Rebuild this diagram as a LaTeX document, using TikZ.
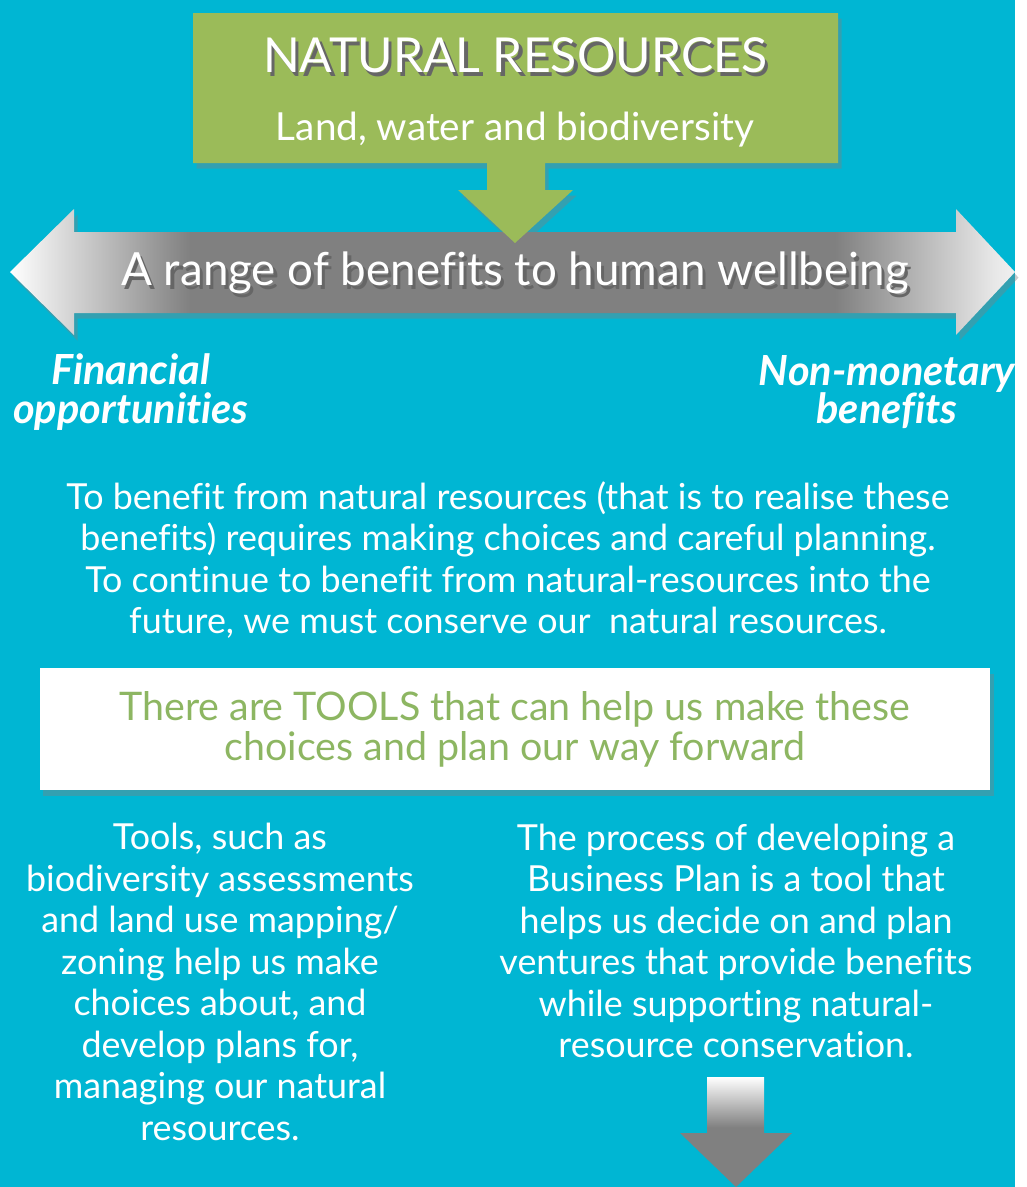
\documentclass[tikz,border=0pt]{standalone}
\usepackage{fontspec}
\setmainfont{Lato}[Ligatures=NoCommon]
\usetikzlibrary{shadows}

\definecolor{seablue}{HTML}{00B6D3}
\definecolor{leafgreen}{HTML}{9BBB59}
\definecolor{tooltext}{HTML}{8DB662}

% fades for the grey arrows
\pgfdeclarehorizontalshading{bandfade}{100bp}{color(0bp)=(white); color(25bp)=(white); color(34bp)=(gray); color(66bp)=(gray); color(74bp)=(white!82!gray); color(75bp)=(white!88!gray); color(100bp)=(white!88!gray)}
\pgfdeclareverticalshading{stemfade}{100bp}{color(0bp)=(gray); color(52bp)=(gray); color(75bp)=(white); color(100bp)=(white)}

% white lettering with a dark offset copy behind it
\newcommand{\embossed}[1]{\makebox[0pt][l]{\hspace{0.9pt}\raisebox{-1.1pt}{\color{black!60}#1}}#1}

\begin{document}
\begin{tikzpicture}[x=0.01cm,y=-0.01cm,
    boxshadow/.style={drop shadow={opacity=0.4,shadow xshift=1pt,shadow yshift=-1.6pt}},
    bodytext/.style={text=white,align=center,font=\fontsize{10.2}{11.8}\selectfont},
    sidelabel/.style={text=white,align=center,font=\fontsize{11.8}{10.9}\selectfont\bfseries\itshape}]

	% background
	\fill[seablue] (0,0) rectangle (1015,1187);

	% double arrow: range of benefits
	\shade[shading=bandfade,boxshadow] (10,272) -- (74,209) -- (74,232) -- (956,232) -- (956,209)
		-- (1015,272) -- (956,335) -- (956,313) -- (74,313) -- (74,335) -- cycle;
	\node[text=white,font=\fontsize{13}{15}\selectfont] (range) at (515,275)
		{\embossed{A range of benefits to human wellbeing}};

	% natural resources box with its arrow
	\fill[leafgreen,boxshadow] (193,13) -- (838,13) -- (838,163) -- (545,163) -- (545,190) -- (573,190)
		-- (515,243) -- (458,190) -- (487,190) -- (487,163) -- (193,163) -- cycle;
	\node[text=white,font=\fontsize{13.7}{16}\selectfont] (resources) at (515,57) {\embossed{NATURAL RESOURCES}};
	\node[text=white,font=\fontsize{11}{13}\selectfont] (land) at (515,130) {Land, water and biodiversity};

	% the two ends of the range
	\node[sidelabel] (financial) at (131,392) {Financial\\opportunities};
	\node[sidelabel] (nonmonetary) at (887,392) {Non-monetary\\benefits};

	\node[bodytext] (choices) at (508,560)
		{To benefit from natural resources (that is to realise these\\
		 benefits) requires making choices and careful planning.\\
		 To continue to benefit from natural-resources into the\\
		 future, we must conserve our \ natural resources.};

	% tools box
	\node[fill=white,boxshadow,minimum width=9.5cm,minimum height=1.22cm,inner sep=0pt,
		text=tooltext,align=center,font=\fontsize{11.2}{11.4}\selectfont] (tools) at (515,729)
		{There are TOOLS that can help us make these\\choices and plan our way forward};

	\node[bodytext] (assessments) at (220,982)
		{Tools, such as\\biodiversity assessments\\and land use mapping/\\zoning help us make\\
		 choices about, and\\develop plans for,\\managing our natural\\resources.};
	\node[bodytext] (businessplan) at (736,941)
		{The process of developing a\\Business Plan is a tool that\\helps us decide on and plan\\
		 ventures that provide benefits\\while supporting natural-\\resource conservation.};

	% arrow leading on from the business plan
	\shade[shading=stemfade] (707,1077) -- (764,1077) -- (764,1133) -- (792,1133) -- (736,1187)
		-- (680,1133) -- (707,1133) -- cycle;
\end{tikzpicture}
\end{document}
